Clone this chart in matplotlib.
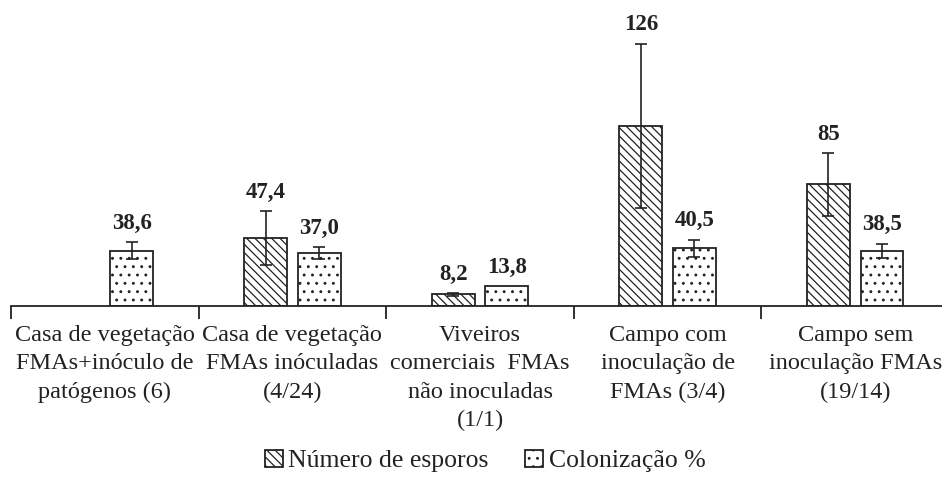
import numpy as np
import matplotlib
matplotlib.use("Agg")
import matplotlib.pyplot as plt

plt.rcParams['font.family'] = ['Liberation Serif', 'DejaVu Serif']
plt.rcParams['hatch.linewidth'] = 0.9

categories = [
    "Casa de vegetação\nFMAs+inóculo de\npatógenos (6)",
    "Casa de vegetação\nFMAs inóculadas\n(4/24)",
    "Viveiros\ncomerciais  FMAs\nnão inoculadas\n(1/1)",
    "Campo com\ninoculação de\nFMAs (3/4)",
    "Campo sem\ninoculação FMAs\n(19/14)",
]
esporos = [np.nan, 47.4, 8.2, 126, 85]
esporos_err = [np.nan, 19, 1, 57.5, 22]
esporos_labels = ["", "47,4", "8,2", "126", "85"]
coloniz = [38.6, 37.0, 13.8, 40.5, 38.5]
coloniz_err = [6, 4, 0, 6, 5]
coloniz_labels = ["38,6", "37,0", "13,8", "40,5", "38,5"]

W, H = 942, 478
fig = plt.figure(figsize=(W / 100, H / 100), dpi=100)
ymax = 200
ppu = 1.43
ax = fig.add_axes([11 / W, (H - 306) / H, 938 / W, ymax * ppu / H])

x = np.arange(len(categories))
bw = 0.228
off = 0.143

b1 = ax.bar(x - off, esporos, bw, facecolor='white', edgecolor='#222222',
            hatch='\\\\\\\\', linewidth=1.3, label='Número de esporos')
b2 = ax.bar(x + off, coloniz, bw, facecolor='white', edgecolor='#222222',
            hatch='..', linewidth=1.3, label='Colonização %')

ax.errorbar(x - off, esporos, yerr=esporos_err, fmt='none', ecolor='#222222',
            elinewidth=1.2, capsize=4.5, capthick=1.2)
ce = [e if e > 0 else np.nan for e in coloniz_err]
ax.errorbar(x + off, coloniz, yerr=ce, fmt='none', ecolor='#222222',
            elinewidth=1.2, capsize=4.5, capthick=1.2)

for xi, v, e, lab in zip(x - off, esporos, esporos_err, esporos_labels):
    if np.isnan(v):
        continue
    top = v + (e if not np.isnan(e) else 0)
    ax.annotate(lab, (xi, top), xytext=(0, 6), textcoords='offset points',
                ha='center', va='bottom', fontsize=16.5, fontweight='bold',
                color='#222222', annotation_clip=False)
for xi, v, e, lab in zip(x + off, coloniz, coloniz_err, coloniz_labels):
    top = v + e
    ax.annotate(lab, (xi, top), xytext=(0, 6), textcoords='offset points',
                ha='center', va='bottom', fontsize=16.5, fontweight='bold',
                color='#222222', annotation_clip=False)

ax.set_xlim(-0.5, len(categories) - 0.5)
ax.set_ylim(0, ymax)
for s in ['top', 'right', 'left']:
    ax.spines[s].set_visible(False)
ax.spines['bottom'].set_linewidth(1.3)
ax.spines['bottom'].set_color('#222222')
ax.set_yticks([])
ax.set_xticks(np.arange(-0.5, len(categories) + 0.5, 1))
ax.set_xticklabels([])
ax.tick_params(axis='x', direction='out', length=9, width=1.3, color='#222222')
for xi, lab in zip(x, categories):
    ax.text(xi, -13, lab, ha='center', va='top', fontsize=17.5, color='#222222',
            linespacing=1.47, transform=ax.transData)

leg = fig.legend(handles=[b1, b2], loc='center', bbox_to_anchor=(485 / W, 1 - 461 / H),
                 ncol=2, frameon=False, fontsize=18.5, handlelength=0.7,
                 handleheight=0.7, handletextpad=0.2, columnspacing=1.45)
for t in leg.get_texts():
    t.set_color('#222222')

fig.savefig('out.png', dpi=100)
